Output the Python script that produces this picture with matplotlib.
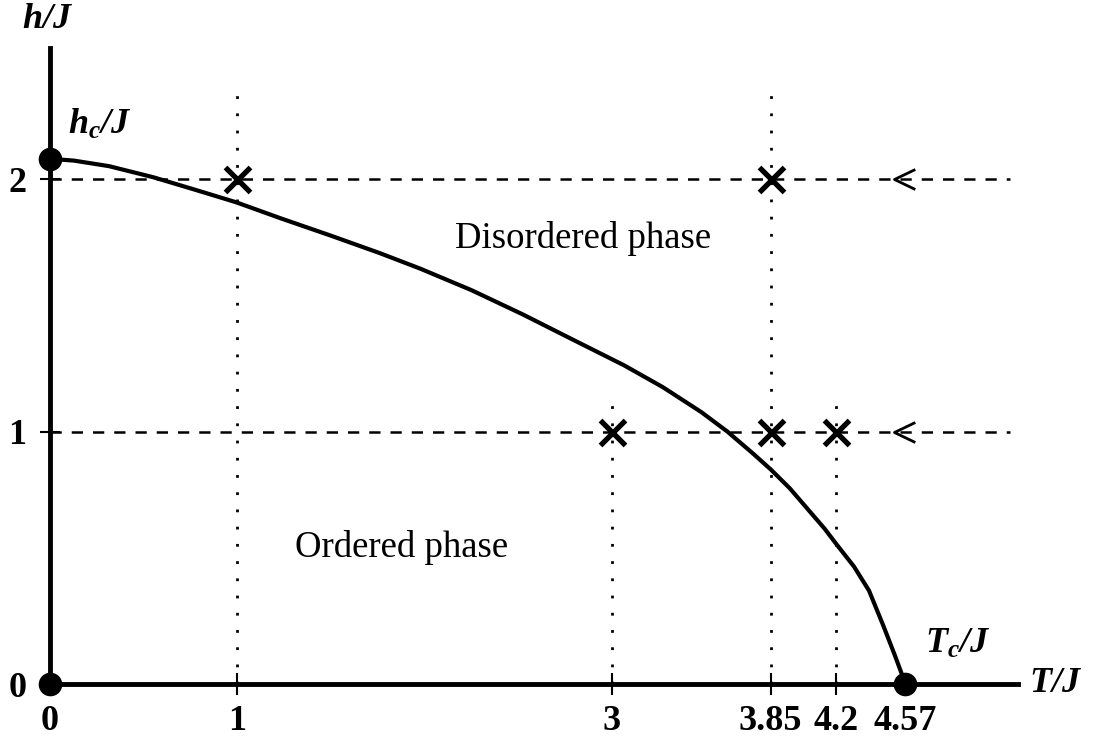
import matplotlib.pyplot as plt

plt.rcParams['font.family'] = ['Liberation Serif', 'DejaVu Serif']
plt.rcParams['mathtext.fontset'] = 'custom'
plt.rcParams['mathtext.it'] = 'Liberation Serif:bold:italic'
plt.rcParams['mathtext.rm'] = 'Liberation Serif:bold:italic'
plt.rcParams['mathtext.default'] = 'it'

# Axis ticks
T_ticks = [0, 1, 3, 3.85, 4.2, 4.57]
T_tick_labels = ['0', '1', '3', '3.85', '4.2', '4.57']
h_ticks = [0, 1, 2]
h_tick_labels = ['0', '1', '2']

# Critical points
h_c = 2.08
T_c = 4.57

# Phase boundary h_c(T)/J
curve_T = [0.0, 0.127, 0.315, 0.552, 0.773, 0.994, 1.230, 1.503, 1.760, 1.978,
           2.251, 2.525, 2.798, 3.067, 3.273, 3.479, 3.618, 3.752, 3.850, 3.952,
           4.138, 4.205, 4.295, 4.375, 4.451, 4.513, 4.57]
curve_h = [2.08, 2.073, 2.051, 2.007, 1.958, 1.908, 1.845, 1.775, 1.707, 1.645,
           1.560, 1.464, 1.362, 1.262, 1.176, 1.077, 1.000, 0.915, 0.850, 0.775,
           0.615, 0.550, 0.465, 0.370, 0.232, 0.114, 0.0]

# Field sweeps (dashed) and the simulated points (crosses)
sweep_h = [1, 2]
cross_T_h1 = [3, 3.85, 4.2]
cross_T_h2 = [1, 3.85]

# Dotted guides at fixed temperature
guide_T = [1, 3, 3.85, 4.2]
guide_top = [2.34, 1.13, 2.34, 1.13]

T_axis_end = 5.17
h_axis_end = 2.52
sweep_end = 5.13
arrow_T = 4.51

fig = plt.figure(figsize=(10.94, 7.42), dpi=100)
ax = fig.add_axes([0, 0, 1, 1])
ax.set_xlim(-0.267, 5.577)
ax.set_ylim(-0.2297, 2.709)

for s in ['top', 'right']:
    ax.spines[s].set_visible(False)
ax.spines['left'].set_position(('data', 0))
ax.spines['bottom'].set_position(('data', 0))
ax.spines['left'].set_bounds(0, h_axis_end)
ax.spines['bottom'].set_bounds(0, T_axis_end)
ax.spines['left'].set_linewidth(3.5)
ax.spines['bottom'].set_linewidth(3.5)

ax.set_xticks(T_ticks, labels=T_tick_labels)
ax.set_yticks(h_ticks, labels=h_tick_labels)
ax.tick_params(axis='x', direction='inout', length=16, width=1.5, pad=7,
               labelsize=26)
ax.tick_params(axis='y', direction='inout', length=14, width=1.5, pad=10,
               labelsize=26)
for lab in ax.get_xticklabels() + ax.get_yticklabels():
    lab.set_fontweight('bold')

# guides
for t, top in zip(guide_T, guide_top):
    ax.plot([t, t], [0, top], color='black', lw=2, linestyle=(0, (1, 5.2)),
            zorder=1)
for hh in sweep_h:
    ax.plot([0, sweep_end], [hh, hh], color='black', lw=1.8,
            linestyle=(0, (4.5, 4)), zorder=1)
    ax.plot([arrow_T], [hh], marker=[(1, 0.48), (0, 0), (1, -0.48)],
            markersize=30, mfc='none', mec='black', mew=2, zorder=3)

# phase boundary
ax.plot(curve_T, curve_h, color='black', lw=3, zorder=3,
        solid_joinstyle='round')

# crosses
ax.plot(cross_T_h1, [1] * len(cross_T_h1), 'x', color='black', ms=18,
        mew=3.8, zorder=4)
ax.plot(cross_T_h2, [2] * len(cross_T_h2), 'x', color='black', ms=18,
        mew=3.8, zorder=4)

# critical points
ax.plot([0, 0, T_c], [0, h_c, 0], 'o', color='black', ms=16, zorder=5,
        clip_on=False)

ax.text(2.847, 1.766, 'Disordered phase', fontsize=26.5, ha='center', va='center')
ax.text(1.880, 0.539, 'Ordered phase', fontsize=26.5, ha='center', va='center')
ax.text(-0.011, 2.60, r'$h/J$', fontsize=26, ha='center', va='baseline')
ax.text(5.37, -0.032, r'$T/J$', fontsize=26, ha='center', va='baseline')
ax.text(0.267, 2.18, r'$h_c/J$', fontsize=26, ha='center', va='baseline')
ax.text(4.85, 0.125, r'$T_c/J$', fontsize=26, ha='center', va='baseline')

fig.savefig('out.png', dpi=100)
